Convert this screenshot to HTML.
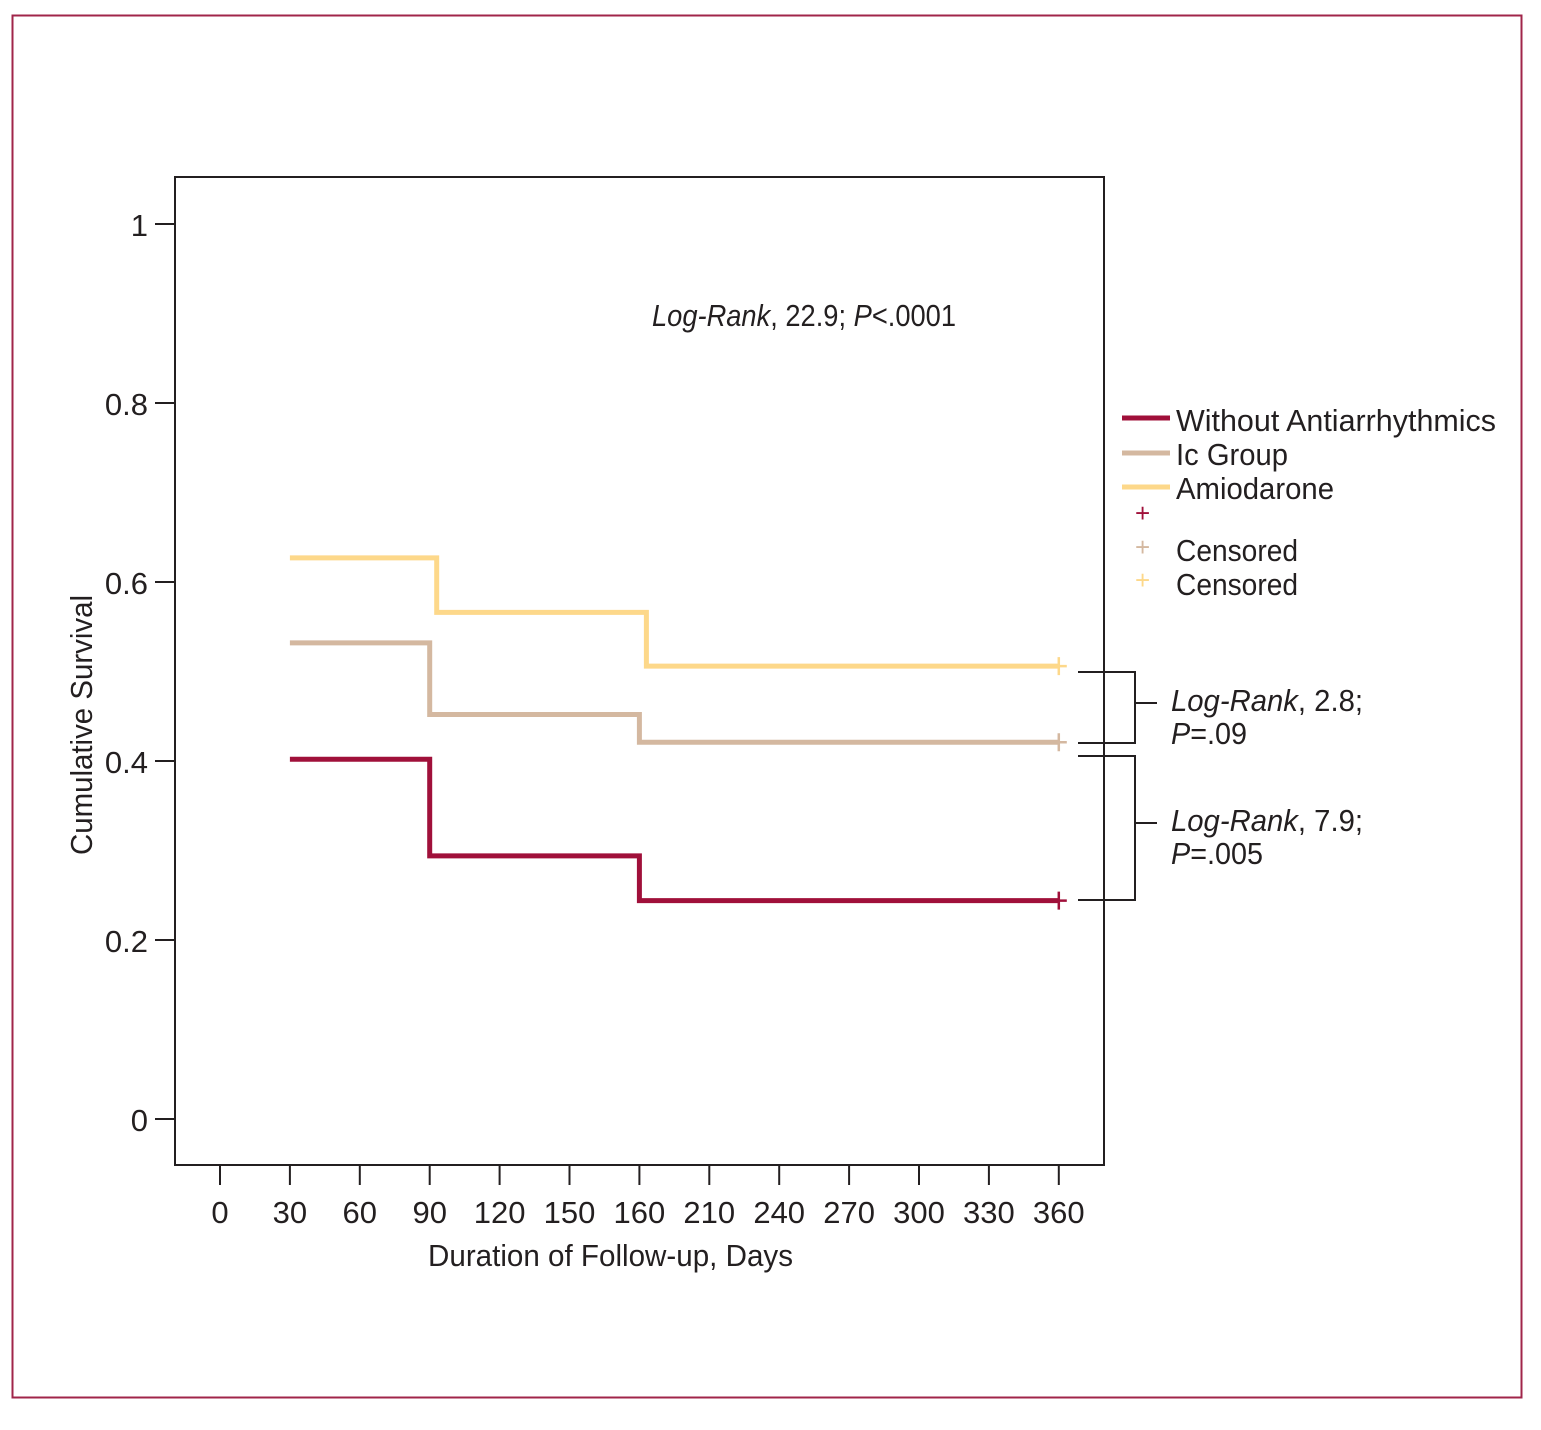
<!DOCTYPE html>
<html><head><meta charset="utf-8"><style>
html,body{margin:0;padding:0;background:#fff;}
svg text{font-family:"Liberation Sans",sans-serif;fill:#231f20;}
</style></head><body>
<svg id="chart" width="1541" height="1425" viewBox="0 0 1541 1425" xmlns="http://www.w3.org/2000/svg">
<rect x="12.5" y="15.5" width="1509" height="1382" fill="none" stroke="#a0254a" stroke-width="2"/>
<rect x="175" y="177" width="929" height="988" fill="none" stroke="#231f20" stroke-width="2"/>
<g id="axes"></g>
<g id="series"></g>
<text x="652" y="326" font-size="31" textLength="304" lengthAdjust="spacingAndGlyphs"><tspan font-style="italic">Log-Rank</tspan>, 22.9; <tspan font-style="italic">P</tspan>&lt;.0001</text>
<text transform="translate(92,855) rotate(-90)" font-size="31" textLength="260" lengthAdjust="spacingAndGlyphs">Cumulative Survival</text>
<text x="428" y="1266" font-size="31" textLength="365" lengthAdjust="spacingAndGlyphs">Duration of Follow-up, Days</text>
<g>
<line x1="1122" y1="418" x2="1170" y2="418" stroke="#a0103a" stroke-width="5"/>
<text x="1176" y="431" font-size="31" textLength="320" lengthAdjust="spacingAndGlyphs">Without Antiarrhythmics</text>
<line x1="1122" y1="453" x2="1170" y2="453" stroke="#d4b8a0" stroke-width="5"/>
<text x="1176" y="465" font-size="31" textLength="112" lengthAdjust="spacingAndGlyphs">Ic Group</text>
<line x1="1122" y1="487" x2="1170" y2="487" stroke="#fdd88a" stroke-width="5"/>
<text x="1176" y="499" font-size="31" textLength="158" lengthAdjust="spacingAndGlyphs">Amiodarone</text>
<text x="1135" y="522" font-size="26" style="fill:#a0103a">+</text>
<text x="1135" y="556" font-size="26" style="fill:#d4b8a0">+</text>
<text x="1176" y="561" font-size="31" textLength="122" lengthAdjust="spacingAndGlyphs">Censored</text>
<text x="1135" y="589" font-size="26" style="fill:#fdd88a">+</text>
<text x="1176" y="595" font-size="31" textLength="122" lengthAdjust="spacingAndGlyphs">Censored</text>
</g>
<g stroke="#231f20" stroke-width="2" fill="none">
<polyline points="1078,672 1135,672 1135,743 1078,743"/>
<line x1="1135" y1="703" x2="1157" y2="703"/>
<polyline points="1078,756 1135,756 1135,900 1078,900"/>
<line x1="1135" y1="823" x2="1157" y2="823"/>
</g>
<text x="1171" y="711" font-size="31" textLength="192" lengthAdjust="spacingAndGlyphs"><tspan font-style="italic">Log-Rank</tspan>, 2.8;</text>
<text x="1171" y="744" font-size="31" textLength="76" lengthAdjust="spacingAndGlyphs"><tspan font-style="italic">P</tspan>=.09</text>
<text x="1171" y="831" font-size="31" textLength="192" lengthAdjust="spacingAndGlyphs"><tspan font-style="italic">Log-Rank</tspan>, 7.9;</text>
<text x="1171" y="864" font-size="31" textLength="92" lengthAdjust="spacingAndGlyphs"><tspan font-style="italic">P</tspan>=.005</text>
</svg>
<script>
const xTickLabels = ["0","30","60","90","120","150","160","210","240","270","300","330","360"];
const yTickValues = [0,0.2,0.4,0.6,0.8,1];
const yTickLabels = ["0","0.2","0.4","0.6","0.8","1"];
const amioDays = [30,93,183,360];
const amioSurv = [0.627,0.566,0.506,0.506];
const icDays = [30,90,180,360];
const icSurv = [0.532,0.452,0.421,0.421];
const withoutDays = [30,90,180,360];
const withoutSurv = [0.402,0.294,0.244,0.244];

const NS="http://www.w3.org/2000/svg";
function x(d){return 220 + d/30*69.9;}
function y(v){return 1119 - v*895;}
const axes=document.getElementById('axes');
function mk(tag,attrs,parent){const e=document.createElementNS(NS,tag);for(const k in attrs)e.setAttribute(k,attrs[k]);parent.appendChild(e);return e;}
xTickLabels.forEach((lab,i)=>{
  const px=x(i*30);
  const t=mk('line',{x1:px,y1:1166,x2:px,y2:1185,stroke:'#231f20','stroke-width':2},axes);
  
  
  const tx=mk('text',{x:px,y:1223,'font-size':31,'text-anchor':'middle'},axes);
  tx.textContent=lab;
  
  
});
yTickValues.forEach((v,i)=>{
  const py=y(v);
  const t=mk('line',{x1:155,y1:py,x2:175,y2:py,stroke:'#231f20','stroke-width':2},axes);
  
  
  const tx=mk('text',{x:148,y:py+12,'font-size':31,'text-anchor':'end'},axes);
  tx.textContent=yTickLabels[i];
  
  
});
const ser=document.getElementById('series');
function step(days,surv,color,name){
  let pts=[];
  for(let i=0;i<days.length;i++){
    if(i>0) pts.push(x(days[i])+','+y(surv[i-1]));
    pts.push(x(days[i])+','+y(surv[i]));
  }
  const p=mk('polyline',{points:pts.join(' '),fill:'none',stroke:color,'stroke-width':5},ser);
  
  
  const cx=x(days[days.length-1]), cy=y(surv[surv.length-1]);
  const c=mk('path',{d:`M${cx-8},${cy}H${cx+8}M${cx},${cy-9}V${cy+9}`,stroke:color,'stroke-width':2.5,fill:'none'},ser);
  
  
}
step(amioDays,amioSurv,'#fdd88a','amiodarone');
step(icDays,icSurv,'#d4b8a0','ic-group');
step(withoutDays,withoutSurv,'#a0103a','without-antiarrhythmics');
</script>
</body></html>
